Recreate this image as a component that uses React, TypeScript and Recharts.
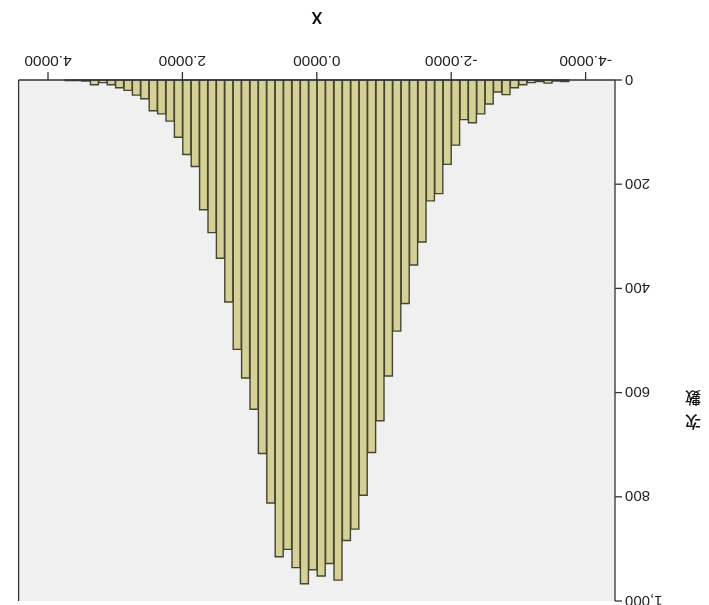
import React from "react";
import { BarChart, Bar, XAxis, YAxis, CartesianGrid, ReferenceLine } from "recharts";

const binCenters = [
  -3.6875, -3.5625, -3.4375, -3.3125, -3.1875, -3.0625, -2.9375, -2.8125, -2.6875, -2.5625,
  -2.4375, -2.3125, -2.1875, -2.0625, -1.9375, -1.8125, -1.6875, -1.5625, -1.4375, -1.3125,
  -1.1875, -1.0625, -0.9375, -0.8125, -0.6875, -0.5625, -0.4375, -0.3125, -0.1875, -0.0625,
  0.0625, 0.1875, 0.3125, 0.4375, 0.5625, 0.6875, 0.8125, 0.9375, 1.0625, 1.1875,
  1.3125, 1.4375, 1.5625, 1.6875, 1.8125, 1.9375, 2.0625, 2.1875, 2.3125, 2.4375,
  2.5625, 2.6875, 2.8125, 2.9375, 3.0625, 3.1875, 3.3125, 3.4375, 3.5625, 3.6875,
];

const counts = [
  3, 2, 6, 3, 5, 9, 15, 28, 23, 46,
  65, 82, 76, 125, 162, 218, 232, 311, 355, 429,
  482, 568, 654, 715, 797, 862, 884, 960, 928, 952,
  940, 967, 936, 901, 915, 812, 717, 632, 572, 517,
  426, 342, 293, 249, 166, 143, 110, 79, 65, 59,
  36, 29, 20, 15, 9, 5, 9, 2, 1, 1,
];

const xTicks = [-4, -2, 0, 2, 4];
const yTicks = [0, 200, 400, 600, 800, 1000];
const xDomain = [-4.4375, 4.4375];
const yDomain = [0, 1000];
const xTitle = "X";
const yTitle = ["次", "數"];

const data = binCenters.map((x, i) => ({ x, count: counts[i] }));

const tickFont = "'Liberation Sans', Arial, sans-serif";

export default function App() {
  return (
    <div
      style={{
        position: "fixed",
        top: 0,
        left: 0,
        width: 709,
        height: 605,
        background: "#ffffff",
        transform: "rotate(180deg)",
      }}
    >
      <BarChart
        width={709}
        height={605}
        data={data}
        margin={{ top: 4, right: 18.6, left: 0, bottom: 0 }}
        barCategoryGap={0}
        barGap={0}
      >
        <CartesianGrid fill="#f0f0f0" horizontal={false} vertical={false} />
        <XAxis
          type="number"
          dataKey="x"
          domain={xDomain}
          allowDataOverflow
          ticks={xTicks}
          interval={0}
          tickFormatter={(v: number) => v.toFixed(4)}
          height={80}
          tickSize={8}
          tickMargin={5}
          stroke="#333333"
          strokeWidth={1.3}
          tick={{ fill: "#222222", fontSize: 15.5, fontFamily: tickFont }}
          label={{
            content: (props: any) => {
              const vb = props.viewBox || {};
              return (
                <text
                  x={vb.x + vb.width / 2}
                  y={587}
                  textAnchor="middle"
                  dominantBaseline="central"
                  fontSize={16}
                  fontWeight="bold"
                  fontFamily={tickFont}
                  fill="#111111"
                >
                  {xTitle}
                </text>
              );
            },
          }}
        />
        <YAxis
          type="number"
          domain={yDomain}
          ticks={yTicks}
          interval={0}
          width={94}
          tickSize={7}
          tickMargin={3}
          stroke="#333333"
          strokeWidth={1.3}
          tickFormatter={(v: number) => v.toLocaleString("en-US")}
          tick={{ fill: "#222222", fontSize: 15, fontFamily: tickFont }}
          label={{
            content: (props: any) => {
              const vb = props.viewBox || {};
              const cx = 16;
              const cy = vb.y + vb.height * 0.365;
              return (
                <text
                  x={cx}
                  textAnchor="middle"
                  fontSize={16}
                  fontWeight={500}
                  fontFamily="'Noto Sans CJK TC', 'Noto Sans CJK SC', sans-serif"
                  fill="#111111"
                >
                  <tspan x={cx} y={cy - 12} dominantBaseline="central">
                    {yTitle[0]}
                  </tspan>
                  <tspan x={cx} y={cy + 12} dominantBaseline="central">
                    {yTitle[1]}
                  </tspan>
                </text>
              );
            },
          }}
        />
        <ReferenceLine x={xDomain[1]} stroke="#333333" strokeWidth={1.3} />
        <Bar
          dataKey="count"
          fill="#d5d096"
          stroke="#45452f"
          strokeWidth={1.4}
          isAnimationActive={false}
        />
      </BarChart>
    </div>
  );
}
